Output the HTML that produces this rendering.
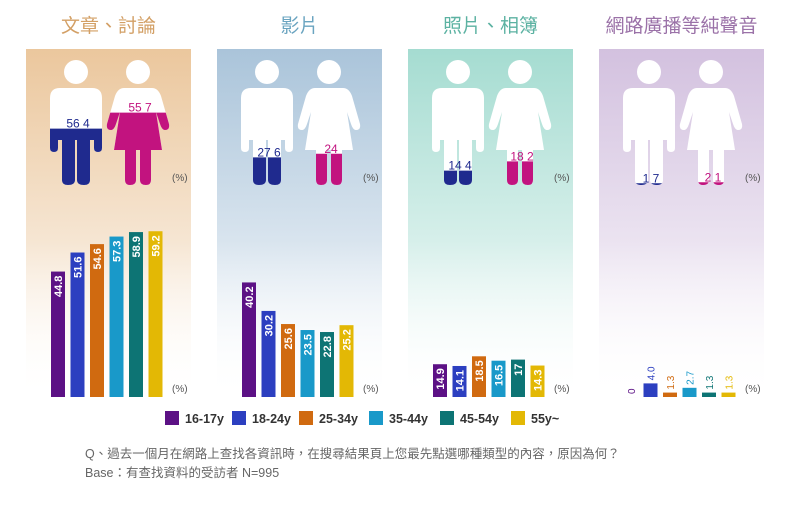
<!DOCTYPE html>
<html><head><meta charset="utf-8">
<style>
body{margin:0;background:#fff;width:792px;height:500px;overflow:hidden;font-family:"Liberation Sans","Noto Sans CJK TC",sans-serif;}
svg text{font-family:"Liberation Sans","Noto Sans CJK TC",sans-serif;}
</style></head>
<body>
<svg id="chart" width="792" height="500"></svg>
<script>
const panelTitles=["文章、討論","影片","照片、相簿","網路廣播等純聲音"];
const ageGroups=["16-17y","18-24y","25-34y","35-44y","45-54y","55y~"];
const maleValues=[56.4,27.6,14.4,1.7];
const femaleValues=[55.7,24,18.2,2.1];
const ageValues=[
 [44.8,51.6,54.6,57.3,58.9,59.2],
 [40.2,30.2,25.6,23.5,22.8,25.2],
 [14.9,14.1,18.5,16.5,17,14.3],
 [0,4.0,1.3,2.7,1.3,1.3]
];
const barLabels=[
 ["44.8","51.6","54.6","57.3","58.9","59.2"],
 ["40.2","30.2","25.6","23.5","22.8","25.2"],
 ["14.9","14.1","18.5","16.5","17","14.3"],
 ["0","4.0","1.3","2.7","1.3","1.3"]
];
const NS="http://www.w3.org/2000/svg";
const svg=document.getElementById('chart');
function el(t,a,p){const e=document.createElementNS(NS,t);for(const k in a)e.setAttribute(k,a[k]);(p||svg).appendChild(e);return e;}
const panelX=[26,217,408,599], panelW=165, panelTop=49, panelBot=400;
const bgCols=["#ebc79d","#aac4da","#a5dcd1","#d3c1df"];
const titleCols=["#d3a066","#6aa4c0","#5cb2a2","#9b72a8"];
const barCols=["#5c1185","#2c3fc0","#d06a10","#1999c9","#0d7474","#e3b805"];
const scales=[2.8,2.85,2.2,3.4];
const baseY=397;
const defs=el('defs',{});
bgCols.forEach((c,i)=>{
 const g=el('linearGradient',{id:'g'+i,x1:0,y1:0,x2:0,y2:1},defs);
 el('stop',{offset:0,'stop-color':c},g);
 el('stop',{offset:0.55,'stop-color':c,'stop-opacity':0.45},g);
 el('stop',{offset:1,'stop-color':'#fff','stop-opacity':0},g);
});
function maleShape(cx,g){
 el('circle',{cx:cx,cy:72,r:12,fill:'inherit'},g);
 el('path',{d:`M${cx-26} 98 Q${cx-26} 88 ${cx-16} 88 L${cx+16} 88 Q${cx+26} 88 ${cx+26} 98 L${cx+26} 148 Q${cx+26} 152 ${cx+22} 152 Q${cx+18} 152 ${cx+18} 148 L${cx+18} 140 L${cx+14} 140 L${cx+14} 180 Q${cx+14} 185 ${cx+8} 185 Q${cx+1} 185 ${cx+1} 180 L${cx+1} 140 L${cx-1} 140 L${cx-1} 180 Q${cx-1} 185 ${cx-8} 185 Q${cx-14} 185 ${cx-14} 180 L${cx-14} 140 L${cx-18} 140 L${cx-18} 148 Q${cx-18} 152 ${cx-22} 152 Q${cx-26} 152 ${cx-26} 148 Z`},g);
}
function femaleShape(cx,g){
 el('circle',{cx:cx,cy:72,r:12},g);
 el('path',{d:`M${cx-14} 88 L${cx+14} 88 Q${cx+20} 88 ${cx+23} 96 L${cx+31} 124 Q${cx+32} 130 ${cx+27} 130 Q${cx+24} 130 ${cx+22} 124 L${cx+18} 112 L${cx+24} 150 L${cx+13} 150 L${cx+13} 180 Q${cx+13} 185 ${cx+8} 185 Q${cx+2} 185 ${cx+2} 180 L${cx+2} 150 L${cx-2} 150 L${cx-2} 180 Q${cx-2} 185 ${cx-8} 185 Q${cx-13} 185 ${cx-13} 180 L${cx-13} 150 L${cx-24} 150 L${cx-18} 112 L${cx-22} 124 Q${cx-24} 130 ${cx-27} 130 Q${cx-32} 130 ${cx-31} 124 L${cx-23} 96 Q${cx-20} 88 ${cx-14} 88 Z`},g);
}
panelTitles.forEach((t,i)=>{
 const x0=panelX[i];
 const pg=el('g',{});
 
 
 const bg=el('rect',{x:x0,y:panelTop,width:panelW,height:panelBot-panelTop,fill:'url(#g'+i+')'},pg);
 
 
 const tt=el('text',{x:x0+panelW/2,y:32,'text-anchor':'middle','font-size':19,fill:titleCols[i]},pg);
 tt.textContent=t;
 
 
 // figures
 const mcx=x0+50, fcx=x0+112;
 [[mcx,maleValues[i],1.0,'#1f2a8e',maleShape,'male'],[fcx,femaleValues[i],1.3,'#c2137f',femaleShape,'female']].forEach(([cx,v,k,col,fn,nm])=>{
  const cid='c'+i+nm;
  const cp=el('clipPath',{id:cid},defs);
  const fy=185-v*k;
  el('rect',{x:cx-40,y:fy,width:80,height:200},cp);
  const g1=el('g',{fill:'#fff'},pg);
  
  
  fn(cx,g1);
  const g2=el('g',{fill:col,'clip-path':'url(#'+cid+')'},pg);
  
  
  fn(cx,g2);
  const lt=el('text',{x:cx+2,y:fy-1,'text-anchor':'middle','font-size':12,fill:col},pg);
  lt.textContent=String(v).replace('.',' ');
  
  
 });
 const p1=el('text',{x:x0+146,y:181,'font-size':10,fill:'#555'},pg);
 p1.textContent='(%)';
 
 
 // bars
 ageValues[i].forEach((v,j)=>{
  const bx=x0+25+j*19.5;
  const h=v*scales[i];
  const ink=v===0?'#5c1185':barCols[j];
  const r=el('rect',{x:bx,y:baseY-h,width:14,height:Math.max(h,0.01),fill:barCols[j]},pg);
  
  
  const big=h>24;
  const ty=big?baseY-h+4:baseY-h-3;
  const lb=el('text',{x:0,y:0,'font-size':big?11:10,'font-weight':big?'bold':'normal',fill:big?'#fff':ink,'text-anchor':big?'end':'start',transform:`translate(${bx+11},${ty}) rotate(-90)`},pg);
  lb.textContent=barLabels[i][j];
  
  
 });
 const p2=el('text',{x:x0+146,y:392,'font-size':10,fill:'#555'},pg);
 p2.textContent='(%)';
 
 
});
// legend
const legX=[165,232,299,369,440,511];
ageGroups.forEach((a,j)=>{
 const lg=el('g',{});
 
 
 el('rect',{x:legX[j],y:411,width:14,height:14,fill:barCols[j]},lg);
 const t=el('text',{x:legX[j]+20,y:423,'font-size':12.5,'font-weight':'bold',fill:'#333'},lg);
 t.textContent=a;
});
const f1=el('text',{x:85,y:458,'font-size':12.5,fill:'#666'});
f1.textContent='Q、過去一個月在網路上查找各資訊時，在搜尋結果頁上您最先點選哪種類型的內容，原因為何？';


const f2=el('text',{x:85,y:477,'font-size':12.5,fill:'#666'});
f2.textContent='Base：有查找資料的受訪者 N=995';


</script>
</body></html>
